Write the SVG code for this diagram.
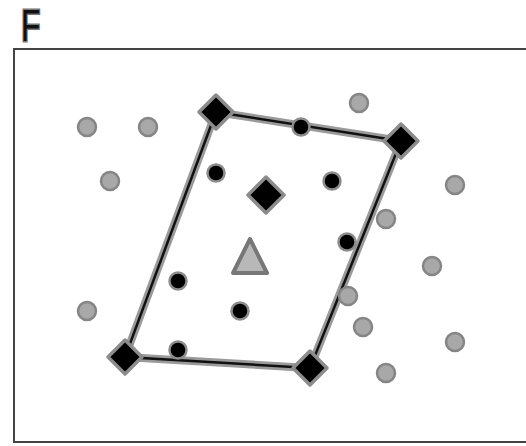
<svg xmlns="http://www.w3.org/2000/svg" width="526" height="446" viewBox="0 0 526 446">
<style>
.frame{fill:none;stroke:#444;stroke-width:2}
.halo{fill:none;stroke:#9a9a9a;stroke-width:8;stroke-linecap:round}
.edge{fill:none;stroke:#111;stroke-width:2.5;stroke-linecap:round}
.dia{fill:#000;stroke:#8c8c8c;stroke-width:3.5;stroke-linejoin:round}
.dot{fill:#000;stroke:#8c8c8c;stroke-width:2.5}
.gray{fill:#a8a8a8;stroke:#858585;stroke-width:2.5}
.tri{fill:#b8b8b8;stroke:#777;stroke-width:4;stroke-linejoin:round}
.lbl{font-family:"Liberation Sans",Arial,sans-serif;font-size:44px;fill:#111;stroke:#777;stroke-width:3;paint-order:stroke}
</style>
<text class="lbl" transform="translate(21,41) scale(0.72,1)">F</text>
<rect class="frame" x="14" y="49" width="514" height="393"/>
<g id="connectors">
<polygon class="halo" points="216,112 401,141 310,368 125,357"/>
<polygon class="edge" points="216,112 401,141 310,368 125,357"/>
</g>
<g id="grays">
<circle class="gray" cx="87" cy="127" r="9"/>
<circle class="gray" cx="148" cy="127" r="9"/>
<circle class="gray" cx="359" cy="103" r="9"/>
<circle class="gray" cx="110" cy="181" r="9"/>
<circle class="gray" cx="455" cy="185" r="9"/>
<circle class="gray" cx="386" cy="219" r="9"/>
<circle class="gray" cx="432" cy="266" r="9"/>
<circle class="gray" cx="348" cy="296" r="9"/>
<circle class="gray" cx="363" cy="327" r="9"/>
<circle class="gray" cx="87" cy="311" r="9"/>
<circle class="gray" cx="455" cy="342" r="9"/>
<circle class="gray" cx="386" cy="373" r="9"/>
</g>
<g id="dots">
<circle class="dot" cx="301" cy="127" r="8.5"/>
<circle class="dot" cx="216" cy="173" r="8.5"/>
<circle class="dot" cx="332" cy="181" r="8.5"/>
<circle class="dot" cx="347" cy="242" r="8.5"/>
<circle class="dot" cx="178" cy="281" r="8.5"/>
<circle class="dot" cx="240" cy="311" r="8.5"/>
<circle class="dot" cx="178" cy="350" r="8.5"/>
</g>
<g id="corner-tl"><polygon class="dia" points="216,95 233,112 216,129 199,112"/></g>
<g id="corner-tr"><polygon class="dia" points="401,124 418,141 401,158 384,141"/></g>
<g id="corner-br"><polygon class="dia" points="310,351 327,368 310,385 293,368"/></g>
<g id="corner-bl"><polygon class="dia" points="125,340 142,357 125,374 108,357"/></g>
<g id="center-diamond"><polygon class="dia" points="266,177 284,195 266,213 248,195"/></g>
<g id="triangle"><polygon class="tri" points="250,239 267,273 233,273"/></g>
</svg>
